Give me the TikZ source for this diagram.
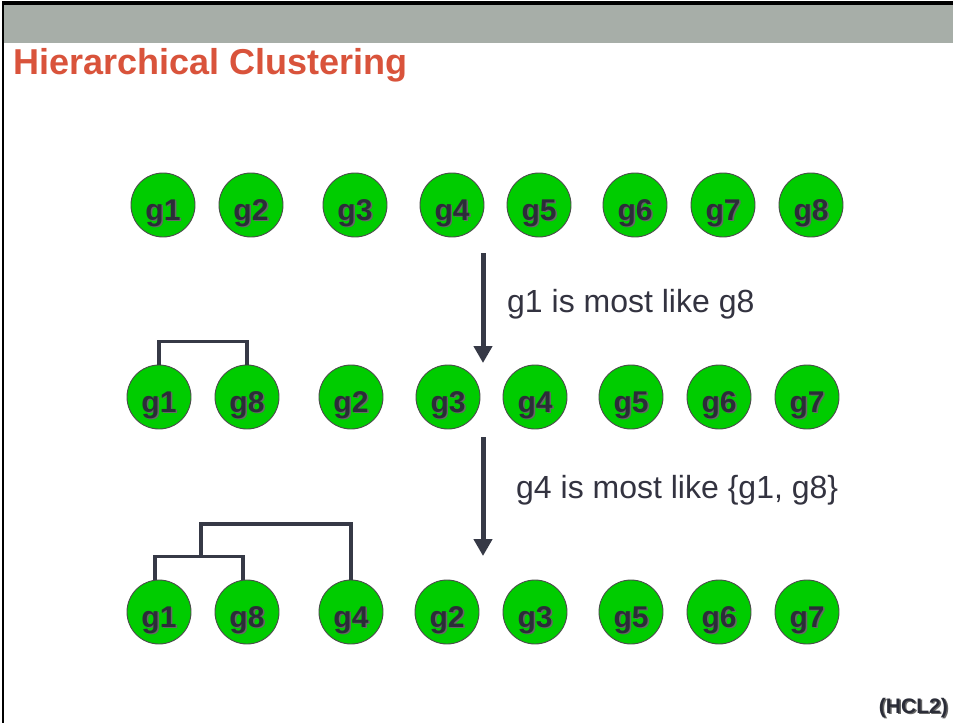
\documentclass[tikz,border=0pt]{standalone}
\usepackage{fontspec}
\setmainfont{Liberation Sans}
\usetikzlibrary{arrows.meta}
\definecolor{band}{HTML}{A7AEA8}
\definecolor{titlered}{HTML}{D9533B}
\definecolor{nodegreen}{HTML}{00CC00}
\definecolor{ink}{HTML}{363946}
\definecolor{txt}{HTML}{333340}
\definecolor{lbl}{HTML}{2B2D38}
\newcommand{\shtext}[1]{{\color{black!60}\rlap{\kern1.5pt\raisebox{-1.8pt}{#1}}}{\color{lbl}#1}}
\newcommand{\glabel}[1]{\raisebox{-15pt}[0pt][0pt]{\shtext{#1}}}
\begin{document}
\begin{tikzpicture}[x=1pt,y=1pt,
  gnode/.style={circle, draw=black!70, line width=0.9pt, fill=nodegreen,
    minimum size=64pt, inner sep=0pt, font=\bfseries\fontsize{30}{32}\selectfont},
  dend/.style={draw=ink, line width=3.4pt, line cap=butt, line join=miter},
  steparrow/.style={draw=ink, line width=5pt, -{Triangle[width=18pt,length=17pt]}},
  note/.style={text=txt, font=\fontsize{32}{36}\selectfont, inner sep=0pt}]
\useasboundingbox (0,0) rectangle (953,-723);
\fill[white] (0,0) rectangle (953,-723);
% frame and band
\fill[band] (4,-5) rectangle (953,-43);
\fill[black] (2,-1) rectangle (953,-5);
\fill[black] (2,-1) rectangle (4,-723);
% title
\node[anchor=base west, inner sep=0pt, text=titlered,
  font=\bfseries\fontsize{36}{40}\selectfont] (title) at (13,-74) {Hierarchical Clustering};
% row 1
\foreach \x/\n in {163/1,251/2,355/3,452/4,539/5,635/6,723/7,811/8}
  \node[gnode] (r1g\n) at (\x,-205) {\glabel{g\n}};
% row 2
\foreach \x/\n in {159/1,247/8,351/2,448/3,535/4,631/5,719/6,807/7}
  \node[gnode] (r2g\n) at (\x,-397) {\glabel{g\n}};
% row 3
\foreach \x/\n in {159/1,247/8,351/4,447/2,535/3,631/5,719/6,807/7}
  \node[gnode] (r3g\n) at (\x,-612) {\glabel{g\n}};
% dendrograms
\draw[dend] (r2g1.north) -- ++(0,23) -| (r2g8.north);
\draw[dend] ([xshift=-4pt]r3g1.north) -- ++(0,23) -| ([xshift=-4pt]r3g8.north);
\coordinate (m1) at (201,-557);
\draw[dend] (m1) -- ++(0,33) -| (r3g4.north);
% arrows
\coordinate (a1s) at (483,-253);
\coordinate (a1e) at (483,-363);
\coordinate (a2s) at (483,-437);
\coordinate (a2e) at (483,-556);
\draw[steparrow] (a1s) -- (a1e);
\draw[steparrow] (a2s) -- (a2e);
% notes
\node[note, anchor=base west] (n1) at (507,-312) {g1 is most like g8};
\node[note, anchor=base west] (n2) at (516,-498) {g4 is most like \{g1, g8\}};
% tag
\node[anchor=base east, inner sep=0pt, font=\bfseries\fontsize{21}{24}\selectfont] (tag) at (948,-713) {\shtext{(HCL2)}};
\end{tikzpicture}
\end{document}
